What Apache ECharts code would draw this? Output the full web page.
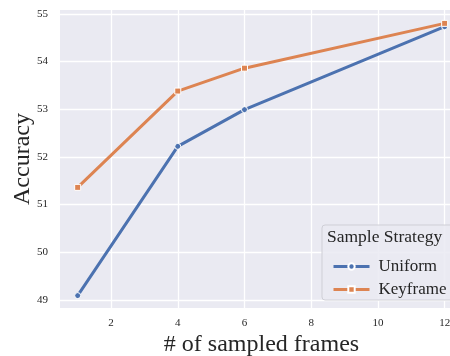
<!DOCTYPE html>
<html>
<head>
<meta charset="utf-8">
<script src="https://cdn.jsdelivr.net/npm/echarts@6/dist/echarts.min.js"></script>
<style>
  html, body { margin: 0; padding: 0; background: #fff; }
  #chart { width: 450px; height: 356px; }
</style>
</head>
<body>
<div id="chart"></div>
<script>
// sampled frame counts and accuracy per strategy
const frames = [1, 4, 6, 12];
const uniform = [49.09, 52.22, 52.99, 54.73];
const keyframe = [51.36, 53.38, 53.86, 54.8];
const xTicks = [2, 4, 6, 8, 10, 12];
const yTicks = [49, 50, 51, 52, 53, 54, 55];

const serif = "'Liberation Serif', 'DejaVu Serif', serif";
const blue = "#4c72b0";
const orange = "#dd8452";

const chart = echarts.init(document.getElementById("chart"), null, { renderer: "canvas" });

function pairs(ys) {
  return frames.map((x, i) => [x, ys[i]]);
}

chart.setOption({
  animation: false,
  backgroundColor: "#fff",
  grid: {
    left: 60, top: 10, width: 403, height: 298,
    outerBoundsMode: "none", containLabel: false,
    show: true, backgroundColor: "#eaeaf2", borderWidth: 0
  },
  xAxis: {
    type: "value",
    min: 0.47, max: 12.55,
    name: "# of sampled frames",
    nameLocation: "middle",
    nameMoveOverlap: false,
    nameGap: 25,
    nameTextStyle: { fontFamily: serif, fontSize: 24, color: "#262626" },
    axisLine: { show: false },
    axisTick: { show: false, customValues: xTicks },
    axisLabel: { customValues: xTicks, fontFamily: serif, fontSize: 11, color: "#262626", margin: 10 },
    splitLine: { show: true, lineStyle: { color: "#fff", width: 1.3 } }
  },
  yAxis: {
    type: "value",
    min: 48.83, max: 55.08,
    name: "Accuracy",
    nameLocation: "middle",
    nameMoveOverlap: false,
    nameGap: 25,
    nameTextStyle: { fontFamily: serif, fontSize: 24, color: "#262626" },
    axisLine: { show: false },
    axisTick: { show: false, customValues: yTicks },
    axisLabel: { customValues: yTicks, fontFamily: serif, fontSize: 11, color: "#262626", margin: 12 },
    splitLine: { show: true, lineStyle: { color: "#fff", width: 1.3 } }
  },
  legend: {
    orient: "vertical",
    left: 327, top: 253,
    itemWidth: 36, itemHeight: 8, itemGap: 6,
    lineStyle: { width: 3 },
    textStyle: { fontFamily: serif, fontSize: 17, color: "#262626", padding: [0, 0, 0, 4] },
    data: ["Uniform", "Keyframe"]
  },
  graphic: [
    {
      type: "rect", z: 3,
      shape: { x: 322, y: 225, width: 140, height: 75, r: 3 },
      style: { fill: "rgba(234,234,242,0.85)", stroke: "#cfcfd6", lineWidth: 1 }
    },
    {
      type: "text", z: 4, left: 327, top: 228,
      style: { text: "Sample Strategy", font: "17.5px " + serif, fill: "#262626" }
    }
  ],
  series: [
    {
      name: "Uniform", type: "line", data: pairs(uniform),
      symbol: "circle", symbolSize: 6,
      lineStyle: { color: blue, width: 3 },
      itemStyle: { color: blue, borderColor: "#fff", borderWidth: 1 }
    },
    {
      name: "Keyframe", type: "line", data: pairs(keyframe),
      symbol: "rect", symbolSize: 6,
      lineStyle: { color: orange, width: 3 },
      itemStyle: { color: orange, borderColor: "#fff", borderWidth: 1 }
    }
  ]
});
</script>
</body>
</html>
